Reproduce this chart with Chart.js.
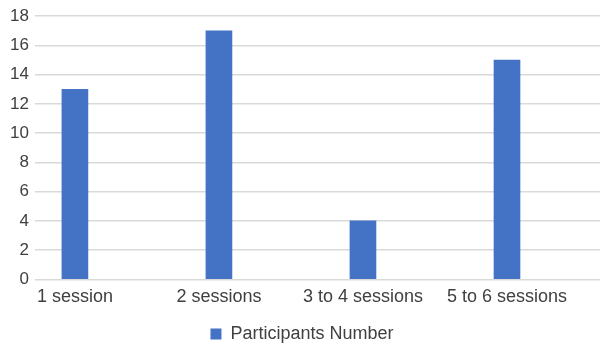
<!DOCTYPE html>
<html>
<head>
<meta charset="utf-8">
<script src="https://cdn.jsdelivr.net/npm/chart.js@4"></script>
<style>
  html, body { margin: 0; padding: 0; background: #fff; }
  #wrap { width: 600px; height: 345px; }
</style>
</head>
<body>
<div id="wrap"><canvas id="chart" width="600" height="345"></canvas></div>
<script>
// categories and values
const categories = ["1 session", "2 sessions", "3 to 4 sessions", "5 to 6 sessions"];
const participants = [13, 17, 4, 15];
const yTicks = [0, 2, 4, 6, 8, 10, 12, 14, 16, 18];

const points = categories.map((c, i) => ({ x: i, y: participants[i] }));
const family = 'Liberation Sans, Arial, sans-serif';

const ctx = document.getElementById('chart').getContext('2d');
new Chart(ctx, {
  type: 'bar',
  data: {
    datasets: [{
      label: 'Participants Number',
      data: points,
      backgroundColor: '#4472C4',
      borderWidth: 0,
      barThickness: 26
    }]
  },
  options: {
    responsive: false,
    animation: false,
    layout: { padding: { top: 7, right: 0, left: 4, bottom: -8 } },
    plugins: {
      tooltip: { enabled: false },
      legend: {
        position: 'bottom',
        labels: { boxWidth: 11, boxHeight: 11, padding: 3, color: '#404040', font: { family, size: 18 } }
      }
    },
    scales: {
      x: {
        type: 'linear',
        // shifted range so the category centres sit where the original puts them
        min: -0.2778,
        max: 3.6458,
        bounds: 'data',
        offset: false,
        afterBuildTicks: axis => { axis.ticks = categories.map((c, i) => ({ value: i })); },
        afterFit: axis => { axis.height += 7; },
        grid: { display: false, drawTicks: false, offset: false },
        border: { display: false },
        ticks: {
          autoSkip: false,
          maxRotation: 0,
          padding: 7,
          color: '#404040',
          font: { family, size: 18 },
          callback: v => categories[v] ?? ''
        }
      },
      y: {
        min: 0,
        max: 18,
        afterBuildTicks: axis => { axis.ticks = yTicks.map(v => ({ value: v })); },
        grid: { color: '#d9d9d9', lineWidth: 1.5, drawTicks: false },
        border: { display: false },
        ticks: { padding: 6, color: '#404040', font: { family, size: 17 } }
      }
    }
  }
});
</script>
</body>
</html>
